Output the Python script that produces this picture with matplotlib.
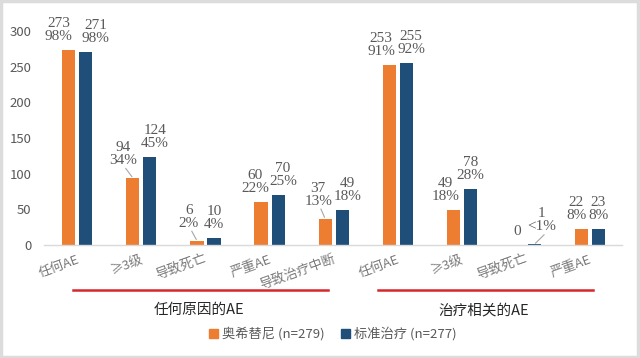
import numpy as np
import matplotlib.pyplot as plt
from matplotlib.patches import Rectangle
from matplotlib.lines import Line2D

plt.rcParams['font.family'] = ['Noto Sans CJK SC', 'DejaVu Sans']

categories = ['任何AE', '≥3级', '导致死亡', '严重AE', '导致治疗中断',
              '任何AE', '≥3级', '导致死亡', '严重AE']
osimertinib = [273, 94, 6, 60, 37, 253, 49, 0, 22]
standard = [271, 124, 10, 70, 49, 255, 78, 1, 23]
osi_labels = ['273\n98%', '94\n34%', '6\n2%', '60\n22%', '37\n13%',
              '253\n91%', '49\n18%', '0', '22\n8%']
std_labels = ['271\n98%', '124\n45%', '10\n4%', '70\n25%', '49\n18%',
              '255\n92%', '78\n28%', '1\n<1%', '23\n8%']
groups = [('任何原因的AE', 0, 4), ('治疗相关的AE', 5, 8)]
series_names = ['奥希替尼 (n=279)', '标准治疗 (n=277)']

orange = '#ed7d31'
blue = '#1f4e79'
gray = '#595959'

fig = plt.figure(figsize=(6.4, 3.58), dpi=100)
fig.patches.append(Rectangle((0.002, 0.004), 0.995, 0.992, transform=fig.transFigure,
                             facecolor='white', edgecolor='#dcdcdc', linewidth=2.5,
                             zorder=-1))
ax = fig.add_axes([44 / 640, 113 / 358, 578 / 640, 214 / 358])
ax.set_facecolor('none')

x = np.arange(len(categories))
off = 0.133
w = 0.205
b1 = ax.bar(x - off, osimertinib, w, color=orange)
b2 = ax.bar(x + off, standard, w, color=blue)

ax.set_xlim(-0.52, 8.5)
ax.set_ylim(0, 300)
ax.set_yticks(range(0, 301, 50))
ax.tick_params(axis='y', length=0, pad=9, labelsize=9.5, labelcolor=gray)
ax.tick_params(axis='x', length=0, pad=10)
ax.set_xticks(x + 0.02)
ax.set_xticklabels(categories, rotation=20, fontsize=9.5, color='#7a7a7a',
                   ha='right', va='center', rotation_mode='anchor')
for s in ['top', 'right', 'left']:
    ax.spines[s].set_visible(False)
ax.spines['bottom'].set_color('#d9d9d9')
ax.spines['bottom'].set_linewidth(1)

# label offsets in pixels (dx from bar center, gap above bar)
osi_dx = [-10, -10, -8, -6, -7, -8, -8, 0, -5]
std_dx = [10, 5, 0, 5, 5, 5, 0, 7, 0]
osi_leader = [False, True, True, False, True, False, False, False, False]
std_leader = [False, False, False, False, False, False, False, True, False]
lab_font = dict(family='Liberation Serif', fontsize=11, color=gray, linespacing=1.0,
                ha='center', va='bottom')
for bars, vals, labs, dxs, leads in [(b1, osimertinib, osi_labels, osi_dx, osi_leader),
                                     (b2, standard, std_labels, std_dx, std_leader)]:
    for bar, v, lab, dx, lead in zip(bars, vals, labs, dxs, leads):
        cx = bar.get_x() + bar.get_width() / 2
        dy = 7
        if lead:
            dy = 11
        ax.annotate(lab, (cx, v), xytext=(dx * 0.72, dy * 0.72),
                    textcoords='offset points', annotation_clip=False, **lab_font)
        if lead:
            ax.annotate('', (cx, v), xytext=(dx * 0.72 + 2, dy * 0.72 - 1),
                        textcoords='offset points', annotation_clip=False,
                        arrowprops=dict(arrowstyle='-', color='#a6a6a6', lw=0.8,
                                        shrinkA=0, shrinkB=1))

trans = ax.get_xaxis_transform()
for title, g0, g1 in groups:
    left = g0 - 0.06 if g0 == 0 else g0 - 0.30
    right = g1 - 0.09 if g0 == 0 else g1 + 0.05
    ax.add_line(Line2D([left, right], [-0.21, -0.21], transform=trans, color='#d8262d',
                       lw=1.8, clip_on=False))
    ax.text((left + right) / 2 - 0.03, -0.305, title, transform=trans, ha='center',
            va='center', fontsize=10.5, color='#262626')

handles = [Rectangle((0, 0), 1, 1, color=orange), Rectangle((0, 0), 1, 1, color=blue)]
fig.legend(handles, series_names, loc='center', bbox_to_anchor=(0.52, 24 / 358), ncol=2,
           frameon=False, fontsize=9.5, labelcolor=gray, handlelength=0.7,
           handleheight=0.7, handletextpad=0.3, columnspacing=1.2)

fig.savefig('out.png', dpi=100)
